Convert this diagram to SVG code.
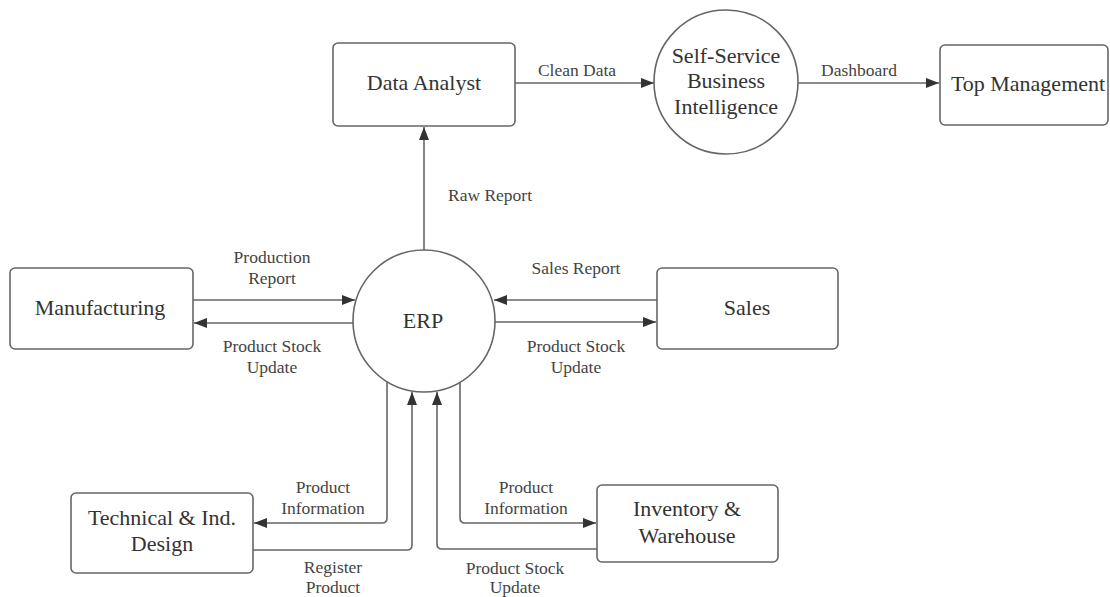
<svg xmlns="http://www.w3.org/2000/svg" width="1110" height="597" viewBox="0 0 1110 597">
<defs>
<style>
.box{fill:#fff;stroke:#666;stroke-width:1.6}
.circ{fill:#fff;stroke:#666;stroke-width:1.6}
.nt{font-family:"Liberation Serif","Times New Roman",serif;font-size:22px;fill:#333;text-anchor:middle;dominant-baseline:central}
.lt{font-family:"Liberation Serif","Times New Roman",serif;font-size:17.5px;fill:#444;text-anchor:middle;dominant-baseline:central}
.c{fill:none;stroke:#666;stroke-width:1.6}
</style>
<marker id="ah" markerUnits="userSpaceOnUse" markerWidth="14" markerHeight="12" refX="13" refY="5" orient="auto">
<path d="M0,0 L13,5 L0,10 z" fill="#333"/>
</marker>
</defs>
<rect width="1110" height="597" fill="#fff"/>

<g id="connectors">
<path class="c" d="M424,250 V127" marker-end="url(#ah)"/>
<path class="c" d="M515,83 H654" marker-end="url(#ah)"/>
<path class="c" d="M798,83 H939" marker-end="url(#ah)"/>
<path class="c" d="M193,300 H355" marker-end="url(#ah)"/>
<path class="c" d="M353,323 H194" marker-end="url(#ah)"/>
<path class="c" d="M657,300 H494" marker-end="url(#ah)"/>
<path class="c" d="M495,322 H656" marker-end="url(#ah)"/>
<path class="c" d="M387,382 V518 Q387,523 382,523 H254" marker-end="url(#ah)"/>
<path class="c" d="M253,550 H407 Q412,550 412,545 V392" marker-end="url(#ah)"/>
<path class="c" d="M597,549 H442 Q437,549 437,544 V392" marker-end="url(#ah)"/>
<path class="c" d="M460,382 V518 Q460,523 465,523 H596" marker-end="url(#ah)"/>
<g id="connector-labels">
<text class="lt" x="577" y="70">Clean Data</text>
<text class="lt" x="859" y="70">Dashboard</text>
<text class="lt" x="490" y="195">Raw Report</text>
<text class="lt" x="272" y="257">Production</text>
<text class="lt" x="272" y="278">Report</text>
<text class="lt" x="272" y="346">Product Stock</text>
<text class="lt" x="272" y="367">Update</text>
<text class="lt" x="576" y="268">Sales Report</text>
<text class="lt" x="576" y="346">Product Stock</text>
<text class="lt" x="576" y="367">Update</text>
<text class="lt" x="323" y="487">Product</text>
<text class="lt" x="323" y="508">Information</text>
<text class="lt" x="333" y="567">Register</text>
<text class="lt" x="333" y="587">Product</text>
<text class="lt" x="515" y="568">Product Stock</text>
<text class="lt" x="515" y="587">Update</text>
<text class="lt" x="526" y="487">Product</text>
<text class="lt" x="526" y="508">Information</text>
</g>
</g>

<g id="data-analyst">
<rect class="box" x="333" y="43" width="182" height="83" rx="5"/>
<text class="nt" x="424" y="82">Data Analyst</text>
</g>
<g id="ssbi">
<circle class="circ" cx="726" cy="82" r="72"/>
<text class="nt" x="726" y="55">Self-Service</text>
<text class="nt" x="726" y="80">Business</text>
<text class="nt" x="726" y="106">Intelligence</text>
</g>
<g id="top-management">
<rect class="box" x="940" y="45" width="168" height="80" rx="5"/>
<text class="nt" x="1028" y="83">Top Management</text>
</g>
<g id="erp">
<circle class="circ" cx="424" cy="321" r="71"/>
<text class="nt" x="423" y="320">ERP</text>
</g>
<g id="manufacturing">
<rect class="box" x="10" y="268" width="183" height="81" rx="5"/>
<text class="nt" x="100" y="307">Manufacturing</text>
</g>
<g id="sales">
<rect class="box" x="657" y="268" width="181" height="81" rx="5"/>
<text class="nt" x="747" y="307">Sales</text>
</g>
<g id="technical-design">
<rect class="box" x="71" y="493" width="182" height="80" rx="5"/>
<text class="nt" x="162" y="517">Technical &amp; Ind.</text>
<text class="nt" x="162" y="543">Design</text>
</g>
<g id="inventory">
<rect class="box" x="597" y="485" width="181" height="77" rx="5"/>
<text class="nt" x="687" y="508">Inventory &amp;</text>
<text class="nt" x="687" y="535">Warehouse</text>
</g>
</svg>
